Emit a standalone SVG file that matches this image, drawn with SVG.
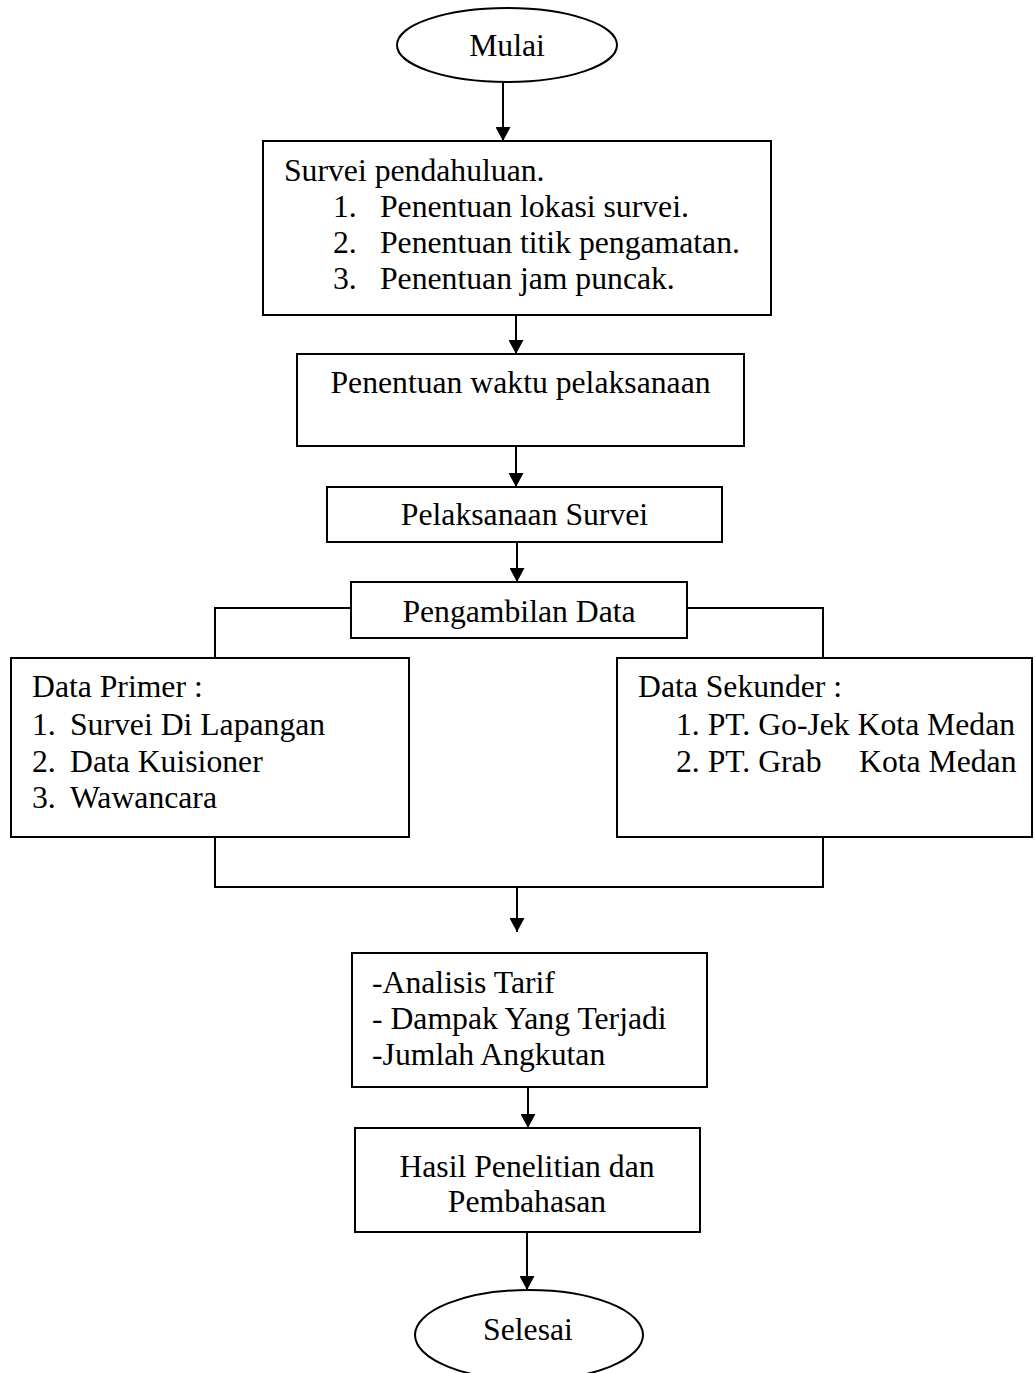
<svg xmlns="http://www.w3.org/2000/svg" width="1035" height="1373" viewBox="0 0 1035 1373">
<style>
.box{fill:#fff;stroke:#000;stroke-width:2}
.term{fill:#fff;stroke:#000;stroke-width:2}
.ln{fill:none;stroke:#000;stroke-width:2}
text{font-family:"Liberation Serif","Times New Roman",serif;font-size:31.7px;fill:#000}
.c{text-anchor:middle}
</style>
<defs>
<marker id="arr" markerUnits="userSpaceOnUse" markerWidth="14" markerHeight="15" viewBox="0 0 14 15" refX="14" refY="7.5" orient="auto">
<path d="M0,0 L14,7.5 L0,15 z" fill="#000"/>
</marker>
</defs>
<rect width="1035" height="1373" fill="#fff"/>
<g id="connectors">
<line class="ln" x1="503" y1="73" x2="503" y2="141" marker-end="url(#arr)"/>
<line class="ln" x1="516" y1="315" x2="516" y2="354" marker-end="url(#arr)"/>
<line class="ln" x1="516" y1="446" x2="516" y2="487" marker-end="url(#arr)"/>
<line class="ln" x1="517" y1="542" x2="517" y2="582" marker-end="url(#arr)"/>
<polyline class="ln" points="351,608 215,608 215,658"/>
<polyline class="ln" points="687,608 823,608 823,658"/>
<polyline class="ln" points="215,837 215,887 823,887 823,837"/>
<line class="ln" x1="517" y1="887" x2="517" y2="932" marker-end="url(#arr)"/>
<line class="ln" x1="528" y1="1087" x2="528" y2="1128" marker-end="url(#arr)"/>
<line class="ln" x1="527" y1="1232" x2="527" y2="1290" marker-end="url(#arr)"/>
</g>
<g id="mulai">
<ellipse class="term" cx="507" cy="45" rx="110" ry="37"/>
<text class="c" x="507" y="56">Mulai</text>
</g>
<g id="survei-pendahuluan">
<rect class="box" x="263" y="141" width="508" height="174"/>
<text x="284" y="181">Survei pendahuluan.</text>
<text x="333" y="217">1.</text><text x="380" y="217">Penentuan lokasi survei.</text>
<text x="333" y="253">2.</text><text x="380" y="253">Penentuan titik pengamatan.</text>
<text x="333" y="289">3.</text><text x="380" y="289">Penentuan jam puncak.</text>
</g>
<g id="penentuan-waktu">
<rect class="box" x="297" y="354" width="447" height="92"/>
<text class="c" x="520.5" y="393">Penentuan waktu pelaksanaan</text>
</g>
<g id="pelaksanaan-survei">
<rect class="box" x="327" y="487" width="395" height="55"/>
<text class="c" x="524.5" y="525">Pelaksanaan Survei</text>
</g>
<g id="pengambilan-data">
<rect class="box" x="351" y="582" width="336" height="56"/>
<text class="c" x="519" y="622">Pengambilan Data</text>
</g>
<g id="data-primer">
<rect class="box" x="11" y="658" width="398" height="179"/>
<text x="32" y="697">Data Primer :</text>
<text x="32" y="735">1.</text><text x="70" y="735">Survei Di Lapangan</text>
<text x="32" y="772">2.</text><text x="70" y="772">Data Kuisioner</text>
<text x="32" y="808">3.</text><text x="70" y="808">Wawancara</text>
</g>
<g id="data-sekunder">
<rect class="box" x="617" y="658" width="415" height="179"/>
<text x="638" y="697">Data Sekunder :</text>
<text x="676" y="735">1. PT. Go-Jek Kota Medan</text>
<text x="676" y="772">2. PT. Grab</text><text x="859" y="772">Kota Medan</text>
</g>
<g id="analisis">
<rect class="box" x="352" y="953" width="355" height="134"/>
<text x="372" y="993">-Analisis Tarif</text>
<text x="372" y="1029">- Dampak Yang Terjadi</text>
<text x="372" y="1065">-Jumlah Angkutan</text>
</g>
<g id="hasil">
<rect class="box" x="355" y="1128" width="345" height="104"/>
<text class="c" x="527" y="1177">Hasil Penelitian dan</text>
<text class="c" x="527" y="1212">Pembahasan</text>
</g>
<g id="selesai">
<ellipse class="term" cx="529" cy="1335" rx="114" ry="45"/>
<text class="c" x="528" y="1340">Selesai</text>
</g>
</svg>
